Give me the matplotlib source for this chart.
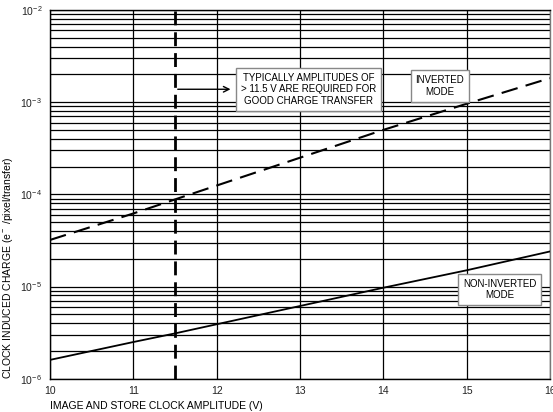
import numpy as np
import matplotlib
matplotlib.use("Agg")
import matplotlib.pyplot as plt
from matplotlib.ticker import LogLocator, NullFormatter, FixedLocator

plt.rcParams['font.family'] = ['Liberation Sans', 'DejaVu Sans']
plt.rcParams['mathtext.fontset'] = 'custom'
plt.rcParams['mathtext.rm'] = 'Liberation Sans'
plt.rcParams['mathtext.it'] = 'Liberation Sans'

# Data
voltage = [10, 11, 11.5, 14, 15, 16]
inverted = [3.2e-5, 6.2e-5, 8.8e-5, 5.0e-4, 9.6e-4, 1.82e-3]
non_inverted = [1.6e-6, 2.5e-6, 3.1e-6, 9.7e-6, 1.5e-5, 2.4e-5]
threshold_v = 11.5
x_ticks = [10, 11, 12, 13, 14, 15, 16]
y_decades = [1e-6, 1e-5, 1e-4, 1e-3, 1e-2]
y_tick_labels = ['10$^{-\\,6}$', '10$^{-\\,5}$', '10$^{-\\,4}$', '10$^{-\\,3}$', '10$^{-\\,2}$']

fig = plt.figure(figsize=(5.53, 4.12), dpi=100)
ax = fig.add_axes([0.0904, 0.0808, 0.904, 0.895])

ax.set_yscale('log')
ax.set_xlim(10, 16)
ax.set_ylim(1e-6, 1e-2)

# grid
ax.xaxis.set_major_locator(FixedLocator(x_ticks))
ax.yaxis.set_major_locator(FixedLocator(y_decades))
ax.yaxis.set_minor_locator(LogLocator(base=10, subs=np.arange(2, 10)))
ax.yaxis.set_minor_formatter(NullFormatter())
ax.set_yticklabels(y_tick_labels)
ax.grid(True, which='both', axis='y', color='black', linewidth=0.9)
ax.grid(True, which='major', axis='x', color='black', linewidth=0.9)
ax.tick_params(which='both', length=0, labelsize=7.5, colors='#222222', pad=5)
for s in ax.spines.values():
    s.set_color('black')
    s.set_linewidth(1.0)
ax.spines['right'].set_color('#777777')

ax.plot(voltage, inverted, color='black', linewidth=1.5, linestyle=(0, (8, 4)), zorder=5)
ax.plot(voltage, non_inverted, color='black', linewidth=1.3, zorder=5)
ax.axvline(threshold_v, color='black', linewidth=2.0, linestyle=(0, (5, 2.5)), zorder=6)

box = dict(boxstyle='square,pad=0.5', facecolor='white', edgecolor='#888888', linewidth=1.0)
ax.text(13.1, 1.38e-3, 'TYPICALLY AMPLITUDES OF\n> 11.5 V ARE REQUIRED FOR\nGOOD CHARGE TRANSFER',
        ha='center', va='center', fontsize=7, bbox=box, zorder=7, linespacing=1.2)
ax.annotate('', xy=(12.2, 1.38e-3), xytext=(11.5, 1.38e-3),
            arrowprops=dict(arrowstyle='->', color='black', lw=1.0), zorder=7)
ax.text(14.68, 1.5e-3, 'INVERTED\nMODE', ha='center', va='center', fontsize=7,
        bbox=box, zorder=7, linespacing=1.2)
ax.text(15.4, 9.3e-6, 'NON-INVERTED\nMODE', ha='center', va='center', fontsize=7,
        bbox=box, zorder=7, linespacing=1.2)

ax.set_xlabel('IMAGE AND STORE CLOCK AMPLITUDE (V)', fontsize=7.5, loc='left', labelpad=4)
ax.set_ylabel('CLOCK INDUCED CHARGE (e$^-$ /pixel/transfer)', fontsize=7.5, loc='bottom', labelpad=4)

fig.savefig('out.png', dpi=100)
